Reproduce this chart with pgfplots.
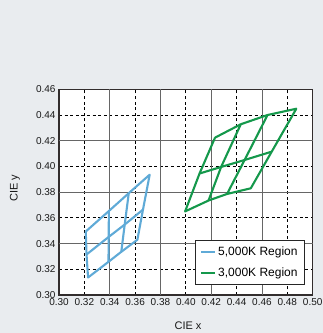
\documentclass[border=0pt]{standalone}
\usepackage{pgfplots}
\pgfplotsset{compat=1.18}
\usepackage{fontspec}
\setmainfont{Liberation Sans}
\definecolor{bgc}{RGB}{233,236,239}
\definecolor{cblue}{RGB}{95,170,215}
\definecolor{cgreen}{RGB}{20,152,75}
\definecolor{axframe}{RGB}{50,45,45}
\begin{document}
\begin{tikzpicture}[x=1pt,y=1pt]
\useasboundingbox (0,0) rectangle (323,333);
\fill[bgc] (0,0) rectangle (323,333);
\clip (0,0) rectangle (323,333);
\begin{axis}[
  at={(59pt,38pt)}, anchor=south west,
  scale only axis, width=253.7pt, height=205.7pt,
  xmin=0.30, xmax=0.50, ymin=0.30, ymax=0.46,
  axis background/.style={fill=white},
  xtick={0.30,0.32,0.34,0.36,0.38,0.40,0.42,0.44,0.46,0.48,0.50},
  ytick={0.30,0.32,0.34,0.36,0.38,0.40,0.42,0.44,0.46},
  minor xtick={0.32,0.36,0.40,0.44,0.48},
  minor ytick={0.32,0.36,0.40,0.44},
  extra x ticks={0.34,0.38,0.42,0.46},
  extra y ticks={0.34,0.38,0.42},
  extra x tick labels={},
  extra y tick labels={},
  grid=minor,
  minor grid style={line width=0.8pt, black, dash pattern=on 3pt off 2.6pt},
  major grid style={line width=0.9pt, black!60, solid},
  extra x tick style={grid=major},
  extra y tick style={grid=major},
  major tick length=0pt,
  minor tick length=0pt,
  /pgf/number format/fixed,
  /pgf/number format/fixed zerofill,
  /pgf/number format/precision=2,
  /pgf/number format/assume math mode=true,
  tick label style={font=\fontsize{10}{12}\selectfont, text=black!90},
  axis line style={line width=1.3pt, axframe},
  xlabel={CIE x}, ylabel={CIE y},
  xlabel style={at={(axis description cs:0.5085,-0.1507)}, anchor=center, font=\fontsize{11}{13}\selectfont, text=black!90},
  ylabel style={at={(axis description cs:-0.1734,0.52)}, anchor=center, font=\fontsize{11}{13}\selectfont, text=black!90},
  legend style={at={(1,0)}, anchor=south east, xshift=-7.7pt, yshift=10pt,
    font=\fontsize{12}{14}\selectfont, draw=black!85, line width=0.8pt,
    row sep=6pt, inner xsep=5pt, inner ysep=5pt, cells={anchor=west}},
  legend cell align=left,
  legend image code/.code={\draw[#1, line width=2pt] (0pt,0pt) -- (14pt,0pt);},
  bl/.style={cblue, line width=2.1pt, line join=round},
  gr/.style={cgreen, line width=2.1pt, line join=round},
]
% 5,000K region
\addplot[bl] coordinates {
 (0.3211,0.3494) (0.3393,0.3653) (0.3550,0.3792) (0.3715,0.3936)
 (0.3662,0.3664) (0.3618,0.3430) (0.3491,0.3336) (0.3390,0.3258)
 (0.3229,0.3136) (0.3217,0.3315) (0.3211,0.3494)};
\addlegendentry{5,000K Region}
\addplot[bl, forget plot] coordinates {
 (0.3217,0.3315) (0.3392,0.3452) (0.3518,0.3548) (0.3662,0.3664)};
\addplot[bl, forget plot] coordinates {
 (0.3393,0.3653) (0.3392,0.3452) (0.3390,0.3258)};
\addplot[bl, forget plot] coordinates {
 (0.3550,0.3792) (0.3518,0.3548) (0.3491,0.3336)};
% 3,000K region
\addplot[gr] coordinates {
 (0.4230,0.4224) (0.4433,0.4328) (0.4644,0.4400) (0.4871,0.4449)
 (0.4677,0.4115) (0.4512,0.3830) (0.4325,0.3786) (0.4179,0.3735)
 (0.3994,0.3650) (0.4108,0.3945) (0.4230,0.4224)};
\addlegendentry{3,000K Region}
\addplot[gr, forget plot] coordinates {
 (0.4108,0.3945) (0.4278,0.3996) (0.4463,0.4050) (0.4677,0.4115)};
\addplot[gr, forget plot] coordinates {
 (0.4433,0.4328) (0.4278,0.3996) (0.4179,0.3735)};
\addplot[gr, forget plot] coordinates {
 (0.4644,0.4400) (0.4463,0.4050) (0.4325,0.3786)};
\end{axis}
\end{tikzpicture}
\end{document}
